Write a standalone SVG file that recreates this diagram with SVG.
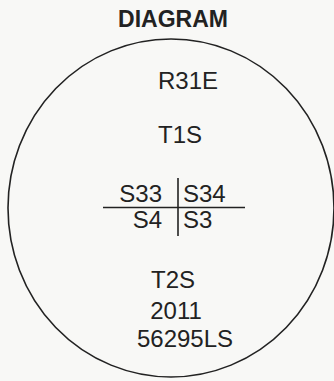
<svg xmlns="http://www.w3.org/2000/svg" width="334" height="381" viewBox="0 0 334 381">
<style>
text{font-family:"Liberation Sans",Arial,sans-serif;fill:#222;font-size:24px}
.t{font-weight:bold;font-size:23px;text-anchor:middle}
.c{text-anchor:middle}
.e{text-anchor:end}
.ln{stroke:#222;stroke-width:1.6;fill:none}
</style>
<rect width="334" height="381" fill="#f8f8f6"/>
<text class="t" x="173" y="27">DIAGRAM</text>
<g id="circle"><ellipse class="ln" cx="171" cy="208" rx="163" ry="169"/></g>
<g id="connectors">
<line class="ln" x1="103" y1="207.5" x2="245" y2="207.5"/>
<line class="ln" x1="178" y1="178" x2="178" y2="236"/>
</g>
<g id="n1"><text class="c" x="188" y="89">R31E</text></g>
<g id="n2"><text class="c" x="180" y="143">T1S</text></g>
<g id="n3"><text class="e" x="162" y="202">S33</text></g>
<g id="n4"><text x="183" y="202">S34</text></g>
<g id="n5"><text class="e" x="162" y="228">S4</text></g>
<g id="n6"><text x="183" y="228">S3</text></g>
<g id="n7"><text class="c" x="173" y="288">T2S</text></g>
<g id="n8"><text class="c" x="176" y="319">2011</text></g>
<g id="n9"><text class="c" x="185" y="347">56295LS</text></g>
</svg>
